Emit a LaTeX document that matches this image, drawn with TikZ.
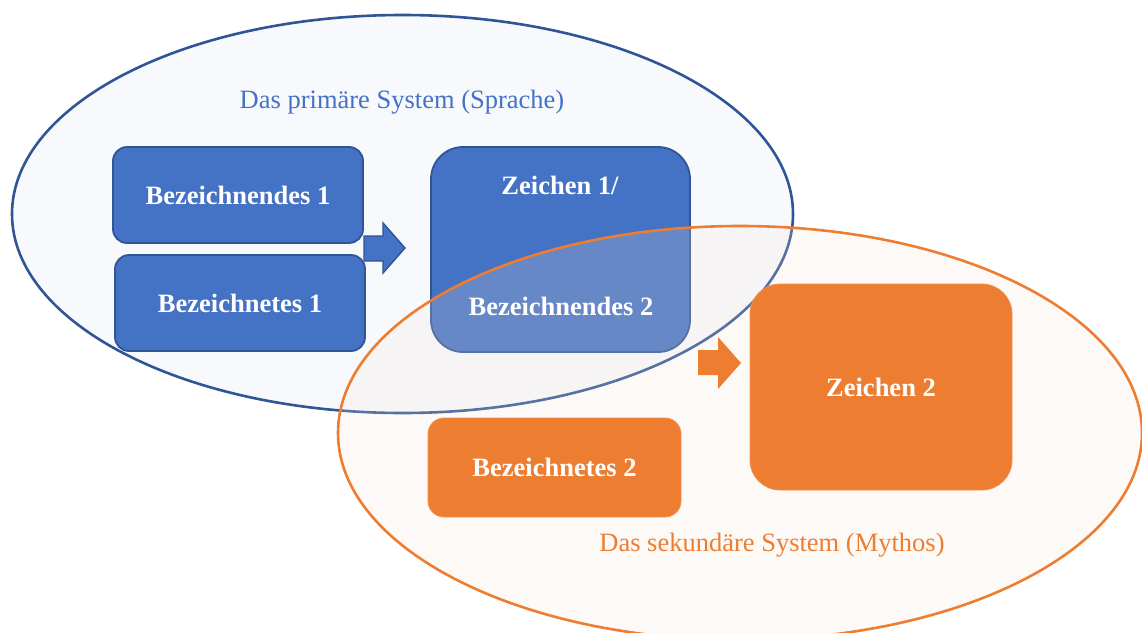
\documentclass[tikz,border=0pt]{standalone}
\usepackage{fontspec}
\setmainfont{Liberation Serif}
\usetikzlibrary{positioning,shapes.geometric}
\definecolor{sysblue}{HTML}{4472C4}
\definecolor{sysblueline}{HTML}{2F5597}
\definecolor{sysorange}{HTML}{ED7D31}
\definecolor{bluehaze}{HTML}{F7F9FD}
\definecolor{orangehaze}{RGB}{245,225,210}
\tikzset{
  blockfont/.style={font=\fontsize{26.5}{30}\selectfont\bfseries, text=white},
  bluebox/.style={draw=sysblueline, line width=1.8pt, fill=sysblue, inner sep=0pt},
  orangebox/.style={draw=sysorange!85!white, line width=0.8pt, fill=sysorange, inner sep=0pt},
  boxtext/.style={blockfont, inner sep=0pt},
  systitle/.style={font=\fontsize{26.5}{30}\selectfont, inner sep=0pt},
  blockarrow/.style={line width=1.4pt, line join=miter},
  systemring/.style={ellipse, line width=2.6pt, inner sep=0pt},
}
\begin{document}
\begin{tikzpicture}[x=1pt,y=-1pt]
\useasboundingbox (0,0) rectangle (1142,632);
\clip (0,0) rectangle (1142,632);

% primary system (language)
\node[systemring, draw=sysblueline, fill=bluehaze, minimum width=781pt, minimum height=398pt]
  (primary) at (402.5,214) {};
\node[systitle, text=sysblue] (primaryTitle) at (402,102) {Das primäre System (Sprache)};

\node[bluebox, rounded corners=14pt, minimum width=250pt, minimum height=96pt, boxtext]
  (sig1) at (238,195) {Bezeichnendes 1};
\node[bluebox, rounded corners=14pt, minimum width=250pt, minimum height=96pt, boxtext]
  (sigd1) at (240,303) {Bezeichnetes 1};
\node[bluebox, rounded corners=32pt, minimum width=259pt, minimum height=205pt]
  (sign1) at (560.5,249.5) {};

% block arrow of the primary system
\draw[blockarrow, draw=sysblueline, fill=sysblue]
  (364,236) -- (383,236) -- (383,223) -- (405,248) -- (383,273) -- (383,261) -- (364,261) -- cycle;

% secondary system (myth), laid over the first one
\node[systemring, draw=sysorange, fill=orangehaze, fill opacity=0.2,
  minimum width=804pt, minimum height=414pt]
  (secondary) at (740,433) {};
\node[systitle, text=sysorange] (secondaryTitle) at (772,545) {Das sekundäre System (Mythos)};

\node[boxtext] (sign1top) at (560,185) {Zeichen 1/};
\node[boxtext] (sign1bottom) at (561,306) {Bezeichnendes 2};

\node[orangebox, rounded corners=16pt, minimum width=253pt, minimum height=99pt, boxtext]
  (sigd2) at (554.5,467.5) {Bezeichnetes 2};
\node[orangebox, rounded corners=30pt, minimum width=262pt, minimum height=206pt, boxtext]
  (sign2) at (881,387) {Zeichen 2};

% block arrow of the secondary system
\fill[sysorange]
  (698,350) -- (718,350) -- (718,337) -- (741,363) -- (718,389) -- (718,375) -- (698,375) -- cycle;
\end{tikzpicture}
\end{document}
